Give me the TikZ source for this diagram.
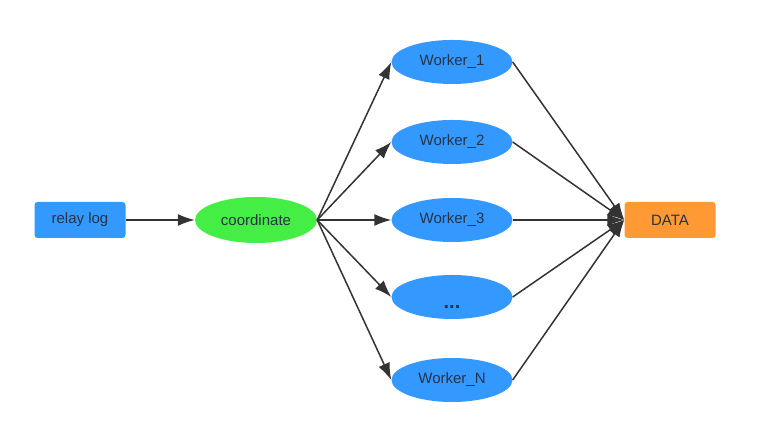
\documentclass[tikz,border=0pt]{standalone}
\usepackage{fontspec}
\setmainfont{Liberation Sans}
\usepackage{tikz}
\usetikzlibrary{shapes.geometric}
\usetikzlibrary{arrows.meta}
\usetikzlibrary{positioning}
\definecolor{wkBody}{RGB}{51,153,255}
\definecolor{coBody}{RGB}{68,238,68}
\definecolor{dtBody}{RGB}{255,153,51}
\definecolor{txtDark}{RGB}{40,50,70}
\definecolor{lineDark}{RGB}{51,51,51}
\tikzstyle{box} = [rectangle, rounded corners=3pt, minimum width=91pt, minimum height=36pt,
        inner sep=0pt, text=txtDark, font={\fontsize{15}{17}\selectfont}]
\tikzstyle{worker} = [ellipse, fill=wkBody, minimum width=121pt, minimum height=44pt,
        inner sep=0pt, text=txtDark, font={\fontsize{15}{17}\selectfont}]
\tikzstyle{link} = [draw=lineDark, line width=1.5pt, -{Latex[length=17pt,width=12pt]}]

\begin{document}
\begin{tikzpicture}[x=1pt, y=1pt]
    \useasboundingbox (0,0) rectangle (770,435);
    % source and coordinator
    \node [box, fill=wkBody] (relay) at (80,215) {relay log};
    \node [worker, fill=coBody, minimum width=122pt, minimum height=46pt] (coord) at (256,215) {coordinate};
    % workers
    \node [worker] (w1) at (452,373) {Worker\_1};
    \node [worker] (w2) at (452,293) {Worker\_2};
    \node [worker] (w3) at (452,215) {Worker\_3};
    \node [worker] (wdots) at (452,138) {\smash{\raisebox{-12pt}{\fontsize{20}{20}\selectfont\textbf{...}}}};
    \node [worker] (wn) at (452,55) {Worker\_N};
    % sink
    \node [box, fill=dtBody] (data) at (670,215) {DATA};

    \draw [link] (relay) -- (coord);
    \foreach \w in {w1,w2,w3,wdots,wn} {
        \draw [link] (coord.east) -- (\w.west);
        \draw [link] (\w.east) -- (data.west);
    }
\end{tikzpicture}
\end{document}
